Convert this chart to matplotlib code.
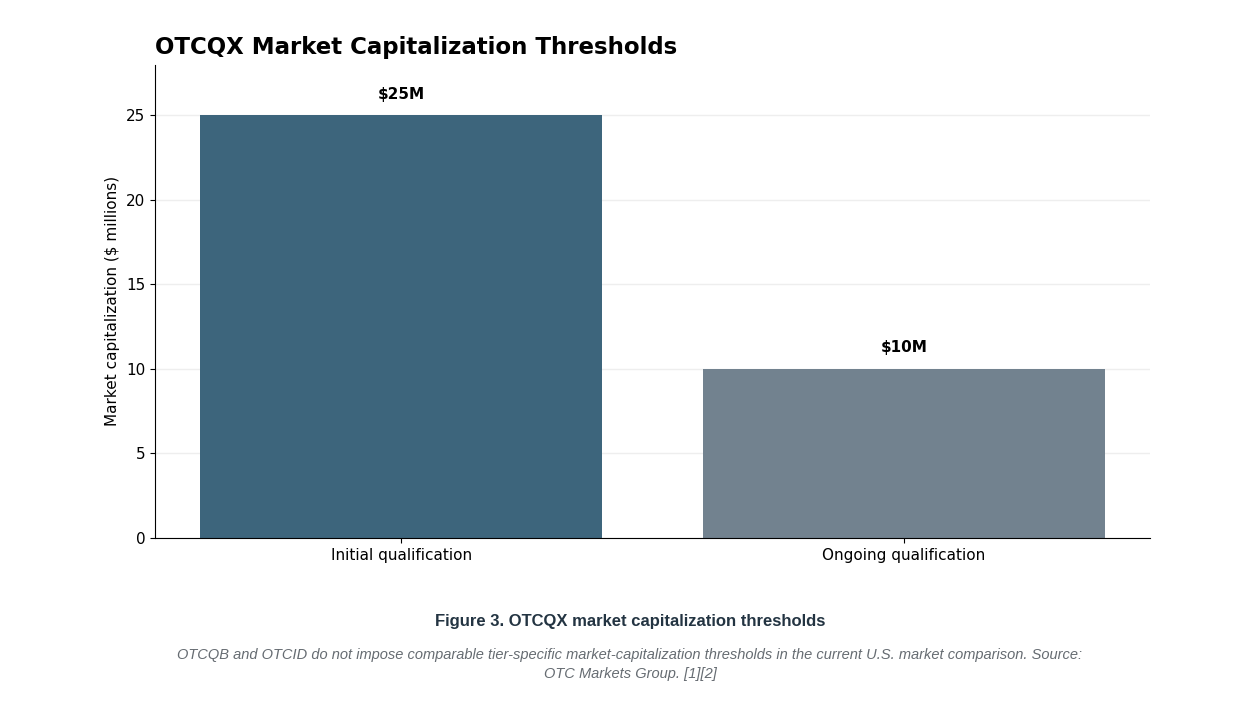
import matplotlib
matplotlib.use("Agg")
import matplotlib.pyplot as plt

categories = ["Initial qualification", "Ongoing qualification"]
values = [25, 10]
labels = ["$25M", "$10M"]
colors = ["#3d657c", "#72828f"]

fig = plt.figure(figsize=(12.6, 7.2), dpi=100)
ax = fig.add_axes([0.123, 0.253, 0.79, 0.657])
ax.bar(categories, values, width=0.8, color=colors, zorder=2)
ax.set_ylim(0, 28)
ax.set_yticks([0, 5, 10, 15, 20, 25])
ax.grid(axis="y", color="#eeeeee", linewidth=1, zorder=0)
ax.set_axisbelow(True)
for s in ["top", "right"]:
    ax.spines[s].set_visible(False)
ax.tick_params(labelsize=11)
ax.set_ylabel("Market capitalization ($ millions)", fontsize=11)
for i, (v, l) in enumerate(zip(values, labels)):
    ax.annotate(l, (i, v), xytext=(0, 10), textcoords="offset points",
                ha="center", va="bottom", fontsize=11, fontweight="bold")
ax.set_title("OTCQX Market Capitalization Thresholds", loc="left",
             fontsize=16.5, fontweight="bold", pad=8)

fig.text(0.5, 0.137, "Figure 3. OTCQX market capitalization thresholds",
         ha="center", va="center", fontsize=12, fontweight="bold",
         color="#233442", family="Liberation Sans")
fig.text(0.5, 0.077, "OTCQB and OTCID do not impose comparable tier-specific market-capitalization thresholds in the current U.S. market comparison. Source:\nOTC Markets Group. [1][2]",
         ha="center", va="center", fontsize=10.5, style="italic",
         color="#666c72", family="Liberation Sans", linespacing=1.45)
fig.savefig("out.png", dpi=100)
